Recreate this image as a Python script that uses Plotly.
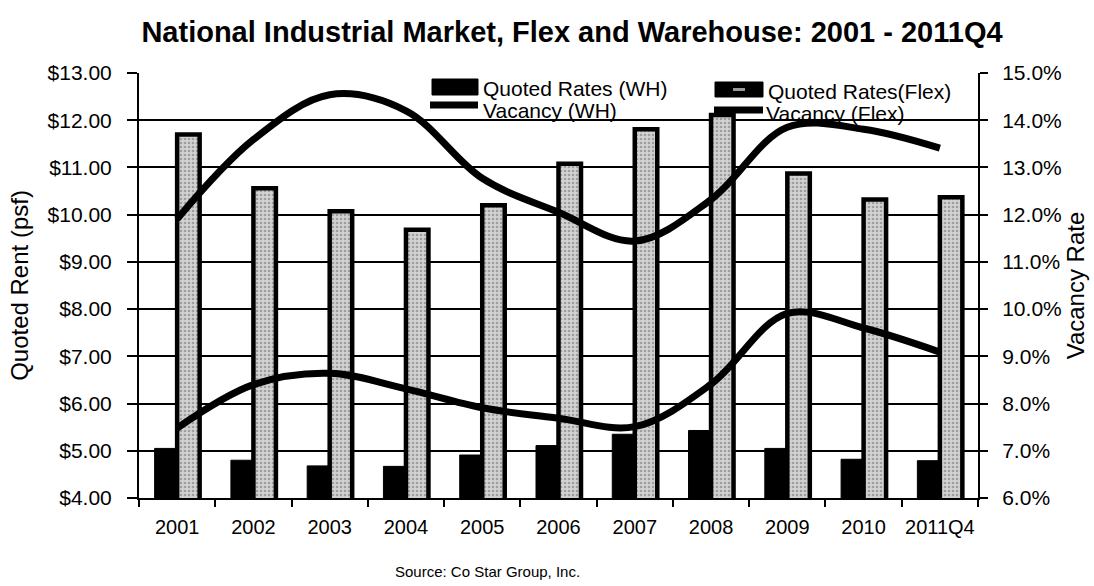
import plotly.graph_objects as go

years = ["2001", "2002", "2003", "2004", "2005", "2006", "2007", "2008", "2009", "2010", "2011Q4"]
rate_wh = [5.05, 4.80, 4.68, 4.67, 4.91, 5.11, 5.35, 5.43, 5.05, 4.82, 4.79]
rate_flex = [11.70, 10.56, 10.07, 9.68, 10.20, 11.08, 11.81, 12.11, 10.87, 10.32, 10.37]
vac_wh = [11.91, 13.59, 14.54, 14.20, 12.77, 12.05, 11.44, 12.32, 13.85, 13.81, 13.41]
vac_flex = [7.48, 8.40, 8.64, 8.31, 7.91, 7.69, 7.51, 8.41, 9.91, 9.60, 9.09]

legend_names = ["Quoted Rates (WH)", "Quoted Rates(Flex)", "Vacancy (WH)", "Vacancy (Flex)"]

FONT = "Liberation Sans, Arial, sans-serif"

# canvas and plot-area geometry (pixels)
W, H = 1094, 586
ML, MR, MT, MB = 139, 116, 73, 88
PW, PH = W - ML - MR, H - MT - MB


def px(x):
    return (x - ML) / PW


def py(y):
    return (H - MB - y) / PH


fig = go.Figure()

fig.add_trace(go.Bar(
    x=years, y=rate_wh, name=legend_names[0],
    marker=dict(color="black", line=dict(color="black", width=1)),
))
fig.add_trace(go.Bar(
    x=years, y=rate_flex, name=legend_names[1],
    marker=dict(
        color="#c0c0c0",
        line=dict(color="black", width=4.5),
        pattern=dict(shape=".", bgcolor="#d2d2d2", fgcolor="#6a6a6a",
                     size=4, solidity=0.35, fillmode="overlay"),
    ),
))
fig.add_trace(go.Scatter(
    x=years, y=vac_wh, name=legend_names[2], yaxis="y2", mode="lines",
    line=dict(color="black", width=7, shape="spline", smoothing=1.0),
))
fig.add_trace(go.Scatter(
    x=years, y=vac_flex, name=legend_names[3], yaxis="y2", mode="lines",
    line=dict(color="black", width=7, shape="spline", smoothing=1.0),
))

tick_font = dict(family=FONT, size=21, color="black")

# legend keys drawn as shapes (wide swatches) with text beside them
shapes = [
    dict(type="rect", xref="paper", yref="paper",
         x0=px(432), x1=px(478), y0=py(95), y1=py(79),
         fillcolor="black", line=dict(color="black", width=1)),
    dict(type="line", xref="paper", yref="paper",
         x0=px(430), x1=px(478), y0=py(105), y1=py(105),
         line=dict(color="black", width=7)),
    dict(type="rect", xref="paper", yref="paper",
         x0=px(715), x1=px(763), y0=py(97), y1=py(82),
         fillcolor="black", line=dict(color="black", width=1)),
    dict(type="rect", xref="paper", yref="paper",
         x0=px(733), x1=px(745), y0=py(91), y1=py(88),
         fillcolor="#9a9a9a", line=dict(width=0)),
    dict(type="line", xref="paper", yref="paper",
         x0=px(714), x1=px(763), y0=py(110), y1=py(110),
         line=dict(color="black", width=7)),
]

legend_font = dict(family=FONT, size=21, color="black")
annotations = [
    dict(text=legend_names[0], x=px(481), y=py(88)),
    dict(text=legend_names[2], x=px(481), y=py(111)),
    dict(text=legend_names[1], x=px(766), y=py(92)),
    dict(text=legend_names[3], x=px(764), y=py(113)),
]
for a in annotations:
    a.update(xref="paper", yref="paper", xanchor="left", yanchor="middle",
             showarrow=False, font=legend_font)

annotations.append(dict(
    text="Source: Co Star Group, Inc.", x=px(487), y=py(571),
    xref="paper", yref="paper", xanchor="center", yanchor="middle",
    showarrow=False, font=dict(family=FONT, size=15, color="black"),
))

fig.update_layout(
    width=W, height=H,
    paper_bgcolor="white", plot_bgcolor="white",
    margin=dict(l=ML, r=MR, t=MT, b=MB),
    barmode="group", bargap=0.41, bargroupgap=0.0,
    showlegend=False,
    font=dict(family=FONT, color="black"),
    title=dict(
        text="<b>National Industrial Market, Flex and Warehouse: 2001 - 2011Q4</b>",
        x=572 / W, xanchor="center", xref="container",
        y=1 - 32 / H, yanchor="middle", yref="container",
        font=dict(family=FONT, size=29, color="black"),
    ),
    xaxis=dict(
        showline=True, linecolor="black", linewidth=2,
        ticks="outside", ticklen=7, tickcolor="black", tickwidth=1.5,
        tickson="boundaries", showgrid=False, tickangle=0,
        tickfont=dict(family=FONT, size=20, color="black"), ticklabelstandoff=10,
    ),
    yaxis=dict(
        range=[4, 13], dtick=1, tickprefix="$", tickformat=".2f",
        showline=True, linecolor="black", linewidth=2,
        ticks="outside", ticklen=10, tickcolor="black", tickwidth=1.5,
        showgrid=True, gridcolor="black", gridwidth=2,
        tickfont=tick_font, ticklabelstandoff=11,
        title=dict(text="Quoted Rent (psf)", font=dict(family=FONT, size=24), standoff=12),
        zeroline=False,
    ),
    yaxis2=dict(
        range=[6, 15], dtick=1, ticksuffix="%", tickformat=".1f",
        overlaying="y", side="right",
        showline=True, linecolor="black", linewidth=2,
        ticks="outside", ticklen=8, tickcolor="black", tickwidth=1.5,
        showgrid=False, zeroline=False,
        tickfont=tick_font, ticklabelstandoff=10,
        title=dict(text="Vacancy Rate", font=dict(family=FONT, size=24), standoff=4),
    ),
    shapes=shapes,
    annotations=annotations,
)

fig.write_html("out.html")
